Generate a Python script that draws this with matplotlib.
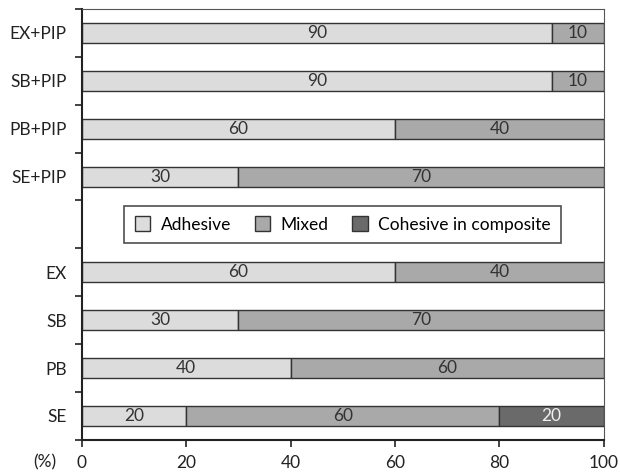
import numpy as np
import matplotlib.pyplot as plt

# categories bottom to top, '' is the gap where the legend sits
groups = ['SE', 'PB', 'SB', 'EX', '', 'SE+PIP', 'PB+PIP', 'SB+PIP', 'EX+PIP']
adhesive = [20, 40, 30, 60, 0, 30, 60, 90, 90]
mixed = [60, 60, 70, 40, 0, 70, 40, 10, 10]
cohesive = [20, 0, 0, 0, 0, 0, 0, 0, 0]
labels = ['Adhesive', 'Mixed', 'Cohesive in composite']
colors = ['#dcdcdc', '#a9a9a9', '#6a6a6a']
txt_colors = ['#333333', '#333333', '#f0f0f0']

plt.rcParams['font.family'] = ['Lato', 'DejaVu Sans']

fig = plt.figure(figsize=(6.2, 4.73), dpi=100)
ax = fig.add_axes([0.132, 0.070, 0.842, 0.911])

y = np.arange(len(groups))
left = np.zeros(len(groups))
for vals, lab, c, tc in zip([adhesive, mixed, cohesive], labels, colors, txt_colors):
    vals = np.array(vals, dtype=float)
    idx = vals > 0
    ax.barh(y[idx], vals[idx], left=left[idx], height=0.42, color=c,
            edgecolor='#333333', linewidth=1, label=lab)
    for yi, v, l in zip(y[idx], vals[idx], left[idx]):
        ax.text(l + v / 2, yi, '%d' % v, ha='center', va='center',
                fontsize=12.5, color=tc)
    left = left + vals

ax.set_xlim(0, 100)
ax.set_ylim(-0.5, len(groups) - 0.5)
ax.set_xticks([0, 20, 40, 60, 80, 100])
ax.tick_params(axis='x', labelsize=12.5, length=5, width=1.2, colors='#222222', pad=6)

ax.set_yticks(np.arange(-0.5, len(groups)), minor=False)
ax.set_yticklabels([])
ax.set_yticks(y, minor=True)
ax.set_yticklabels(groups, minor=True, fontsize=12.5, color='#222222')
ax.tick_params(axis='y', which='major', length=5, width=1.2, colors='#222222')
ax.tick_params(axis='y', which='minor', length=0, pad=11)

for s in ['left', 'bottom']:
    ax.spines[s].set_linewidth(1.5)
    ax.spines[s].set_color('#222222')
for s in ['top', 'right']:
    ax.spines[s].set_linewidth(0.8)
    ax.spines[s].set_color('#555555')

fig.text(45 / 620, 1 - 462 / 473, '(%)', fontsize=12.5, color='#222222',
         ha='center', va='center')

leg = ax.legend(loc='center', ncol=3, fontsize=12.5, frameon=True, fancybox=False,
                edgecolor='#222222', handlelength=0.9, handleheight=0.9,
                handletextpad=0.6, columnspacing=1.35, borderpad=0.6)
leg.get_frame().set_linewidth(1.2)
for h in leg.legend_handles:
    h.set_linewidth(1)

fig.savefig('out.png', dpi=100)
